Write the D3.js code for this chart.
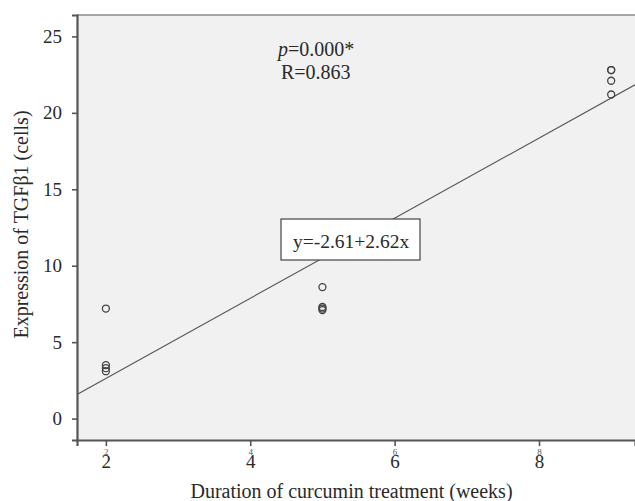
<!DOCTYPE html>
<html><head><meta charset="utf-8">
<script src="https://cdn.jsdelivr.net/npm/d3@7"></script>
<style>body{margin:0;background:#fff}svg{display:block}</style>
</head><body>
<svg id="c" width="635" height="501"></svg>
<script>
const weeks = [2,2,2,2,5,5,5,5,9,9,9,9];
const cells = [7.2,3.5,3.3,3.1,8.6,7.3,7.2,7.1,22.8,22.8,22.1,21.2];
const xTicks = [2,4,6,8];
const yTicks = [0,5,10,15,20,25];
const intercept = -2.61, slope = 2.62;
const annot = ["p=0.000*","R=0.863"];
const eqLabel = "y=-2.61+2.62x";

const svg = d3.select("#c");
const L=77, R=635, T=15, B=440;
const x = d3.scaleLinear().domain([1.6,9.33]).range([L,R]);
const y = d3.scaleLinear().domain([-1.4,26.4]).range([B,T]);
const font = "'Liberation Serif','Times New Roman',serif";
const ink = "#2a2a2a";

svg.append("rect").attr("x",L).attr("y",T).attr("width",R-L).attr("height",B-T).attr("fill","#f0f1f0");
svg.append("line").attr("x1",L).attr("x2",R).attr("y1",T).attr("y2",T).attr("stroke","#8a8a8a").attr("stroke-width",1.5);

// regression line
const xd = x.domain();
svg.append("line").attr("x1",x(xd[0])).attr("y1",y(intercept+slope*xd[0]))
  .attr("x2",x(xd[1])).attr("y2",y(intercept+slope*xd[1]))
  .attr("stroke","#555").attr("stroke-width",1.1);

// points
svg.selectAll("circle.p").data(weeks.map((w,i)=>[w,cells[i]])).join("circle")
  .attr("cx",d=>x(d[0])).attr("cy",d=>y(d[1])).attr("r",3.5)
  .attr("fill","none").attr("stroke","#444").attr("stroke-width",1.3);

// axes
const yAx = svg.append("g").attr("transform",`translate(${L},0)`)
  .call(d3.axisLeft(y).tickValues(yTicks).tickSize(5).tickPadding(10));
const xAx = svg.append("g").attr("transform",`translate(0,${B})`)
  .call(d3.axisBottom(x).tickValues(xTicks).tickSize(6).tickPadding(9));
[yAx,xAx].forEach(g=>{
  g.select(".domain").attr("stroke","#555").attr("stroke-width",2.2);
  g.selectAll(".tick line").attr("stroke","#555").attr("stroke-width",1.6);
  g.selectAll("text").attr("font-family",font).attr("font-size",19).attr("fill",ink);
});
// small duplicated tick labels on x
xAx.selectAll(".tick").append("text").attr("y",15).attr("text-anchor","middle")
  .attr("font-family",font).attr("font-size",9).attr("fill","#555").text(d=>d);

// axis titles
svg.append("text").attr("x",351.5).attr("y",498).attr("text-anchor","middle")
  .attr("font-family",font).attr("font-size",20).attr("fill",ink)
  .text("Duration of curcumin treatment (weeks)");
svg.append("text").attr("transform",`translate(28,224.5) rotate(-90)`).attr("text-anchor","middle")
  .attr("font-family",font).attr("font-size",20).attr("fill",ink)
  .text("Expression of TGFβ1 (cells)");

// annotations
const a1 = svg.append("text").attr("x",278).attr("y",56).attr("font-family",font).attr("font-size",20).attr("fill",ink);
a1.append("tspan").attr("font-style","italic").text(annot[0].slice(0,1));
a1.append("tspan").text(annot[0].slice(1));
svg.append("text").attr("x",281).attr("y",79).attr("font-family",font).attr("font-size",20).attr("fill",ink).text(annot[1]);

// equation box
svg.append("rect").attr("x",281).attr("y",219).attr("width",139).attr("height",41)
  .attr("fill","#fff").attr("stroke","#444").attr("stroke-width",1.2);
svg.append("text").attr("x",293).attr("y",248)
  .attr("font-family",font).attr("font-size",19.5).attr("fill",ink).text(eqLabel);
</script>
</body></html>
